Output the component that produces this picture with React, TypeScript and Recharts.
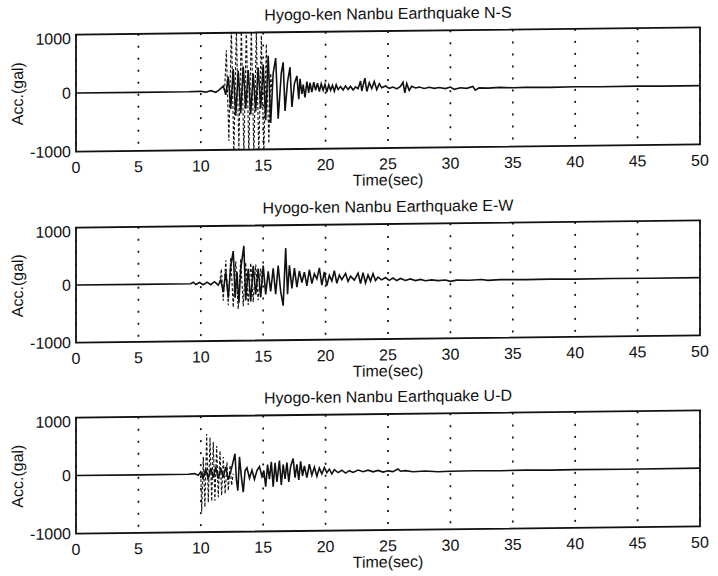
import React from 'react';
import { LineChart, Line, XAxis, YAxis, CartesianGrid, ReferenceArea } from 'recharts';

const FONT = '"Liberation Sans", Arial, Helvetica, sans-serif';
const INK = '#111';

const timeTicks = [0, 5, 10, 15, 20, 25, 30, 35, 40, 45, 50];
const accTicks = [-1000, 0, 1000];
const xLabel = 'Time(sec)';
const yLabel = 'Acc.(gal)';

const nsTitle = 'Hyogo-ken Nanbu Earthquake N-S';
const ewTitle = 'Hyogo-ken Nanbu Earthquake E-W';
const udTitle = 'Hyogo-ken Nanbu Earthquake U-D';

// N-S component: [time (sec), acceleration (gal)]
const nsTrace: [number, number][] = [
  [0, 0], [5, 0], [9, 0], [10, 5], [10.4, -10], [10.8, 15], [11.2, -15], [11.5, 30], [11.8, 90],
  [12.0, -60], [12.2, 250], [12.4, -300], [12.6, 380], [12.8, -420], [13.0, 350], [13.2, -380],
  [13.4, 420], [13.6, -300], [13.8, 360], [14.0, -400], [14.2, 300], [14.4, -350], [14.6, 400],
  [14.8, -300], [15.0, 450], [15.2, -500], [15.4, 600], [15.6, -550], [15.8, 300], [16.0, 560],
  [16.2, -480], [16.45, 300], [16.6, 485], [16.75, -345], [16.95, 150], [17.15, 400], [17.3, -280],
  [17.5, 120], [17.7, 250], [17.85, -150], [17.95, 200], [18.1, -60], [18.2, 100], [18.35, -120],
  [18.5, 150], [18.65, -40], [18.75, 130], [18.9, -30], [19.05, 140], [19.2, 0], [19.35, 120],
  [19.5, -20], [19.65, 110], [19.8, 0], [19.95, 100], [20.1, -30], [20.25, 90], [20.4, 0],
  [20.55, 80], [20.7, -20], [20.85, 90], [21.0, 10], [21.2, 60], [21.4, 0], [21.6, 70], [21.8, 10],
  [22.0, 60], [22.2, 0], [22.4, 50], [22.6, 20], [22.8, 150], [22.9, -20], [23.15, 200], [23.3, -30],
  [23.5, 120], [23.7, 20], [23.9, 140], [24.1, 0], [24.3, 100], [24.5, 30], [24.8, 60], [25.1, 20],
  [25.4, 40], [25.7, 10], [26.0, 50], [26.2, 120], [26.35, -60], [26.5, 100], [26.7, -20],
  [26.9, 50], [27.2, 20], [27.5, 35], [27.9, 10], [28.3, 30], [28.7, 10], [29.1, 25], [29.6, 5],
  [30.0, 30], [30.3, -10], [30.8, 15], [31.3, 5], [31.8, 35], [32.0, -30], [32.3, 10], [33, 5],
  [34, 15], [35, 5], [36, 10], [38, 5], [40, 10], [42, 5], [45, 10], [47, 5], [50, 5],
];
const nsBurst: [number, number][] = [
  [11.9, 0], [12.05, 700], [12.25, -850], [12.45, 1100], [12.65, -1100], [12.85, 1100],
  [13.05, -1000], [13.25, 1100], [13.45, -1100], [13.65, 1100], [13.85, -1100], [14.05, 1100],
  [14.25, -1100], [14.45, 1000], [14.65, -1100], [14.85, 950], [15.05, -1100], [15.25, 800],
  [15.45, -900], [15.6, 300], [15.7, 0],
];

// E-W component
const ewTrace: [number, number][] = [
  [0, 0], [5, 0], [9.2, 0], [9.4, 25], [9.6, -15], [9.9, 20], [10.2, -20], [10.5, 25], [10.8, -20],
  [11.1, 30], [11.4, -30], [11.6, 60], [11.8, -150], [12.0, 200], [12.2, -250], [12.4, 300],
  [12.6, 560], [12.75, -250], [12.9, 200], [13.05, -350], [13.2, 250], [13.45, 650], [13.6, -300],
  [13.8, 250], [14.0, -320], [14.2, 300], [14.4, -200], [14.6, 250], [14.8, -250], [15.0, 300],
  [15.2, -200], [15.4, 200], [15.6, -150], [15.8, 250], [16.0, -200], [16.2, 300], [16.4, -150],
  [16.6, -400], [16.8, 600], [16.95, -200], [17.1, 300], [17.3, -100], [17.5, 250], [17.7, -80],
  [17.9, 200], [18.1, 0], [18.3, 180], [18.5, -60], [18.7, 220], [18.9, -20], [19.1, 150],
  [19.3, 60], [19.5, 250], [19.7, -50], [19.9, 180], [20.1, -60], [20.3, 120], [20.5, 20],
  [20.7, 200], [20.9, -20], [21.1, 120], [21.3, 40], [21.6, 150], [21.8, 10], [22.0, 100],
  [22.3, 30], [22.6, 150], [22.8, -30], [23.0, 160], [23.2, -20], [23.4, 120], [23.6, 10],
  [23.8, 140], [24.0, 20], [24.2, 80], [24.5, 30], [24.8, 70], [25.1, 20], [25.4, 60], [25.7, 15],
  [26.0, 50], [26.4, 15], [26.8, 40], [27.2, 10], [27.6, 30], [28.0, 5], [28.5, 20], [29, 5],
  [29.6, 15], [30, -10], [30.5, 10], [31.5, 5], [32.5, 15], [33, 0], [34, 10], [36, 5], [38, 10],
  [40, 5], [43, 8], [46, 5], [50, 5],
];
const ewBurst: [number, number][] = [
  [11.5, 0], [11.65, 250], [11.8, -300], [12.0, 400], [12.2, -380], [12.4, 450], [12.6, -420],
  [12.8, 380], [13.0, -450], [13.2, 420], [13.4, -400], [13.6, 360], [13.8, -380], [14.0, 350],
  [14.2, -330], [14.4, 320], [14.6, -300], [14.8, 250], [14.95, 0],
];

// U-D component
const udTrace: [number, number][] = [
  [0, 0], [5, 0], [9.0, 0], [9.5, 10], [9.8, -20], [10.0, 40], [10.2, -60], [10.4, 80], [10.6, -80],
  [10.8, 100], [11.0, -60], [11.2, 120], [11.4, -80], [11.6, 100], [11.8, -60], [12.0, 120],
  [12.2, -100], [12.45, 80], [12.74, 345], [12.85, -100], [12.97, -290], [13.1, 290], [13.25, -50],
  [13.4, -320], [13.55, 50], [13.7, 100], [13.9, -80], [14.1, 60], [14.3, -100], [14.5, 50],
  [14.7, 120], [14.9, -50], [15.05, 50], [15.2, -230], [15.35, 150], [15.5, -100], [15.65, 200],
  [15.8, -230], [15.95, 180], [16.1, -150], [16.3, 220], [16.45, -200], [16.6, 150], [16.75, -100],
  [16.9, 180], [17.05, -150], [17.2, 120], [17.4, 250], [17.55, -80], [17.7, 150], [17.85, -120],
  [18.0, 200], [18.15, -50], [18.3, 120], [18.5, -80], [18.7, 150], [18.9, -40], [19.1, 100],
  [19.3, -60], [19.5, 80], [19.7, -20], [19.9, 90], [20.1, 0], [20.3, 60], [20.5, -20], [20.7, 50],
  [21.0, 0], [21.3, 40], [21.6, -10], [21.9, 30], [22.2, 0], [22.6, 40], [23.0, 10], [23.4, 35],
  [23.8, 5], [24.2, 30], [24.6, 0], [25.0, 20], [25.4, 5], [25.8, 50], [26.0, 10], [26.4, 20],
  [27, 0], [28, 10], [29, -5], [30, 0], [32, 5], [34, 0], [36, 5], [38, 0], [40, 5], [44, 0], [50, 5],
];
const udBurst: [number, number][] = [
  [10.0, 0], [10.07, -650], [10.2, 300], [10.33, -570], [10.47, 690], [10.6, -490], [10.74, 630],
  [10.87, -470], [11.0, 550], [11.13, -460], [11.27, 480], [11.4, -400], [11.54, 400], [11.67, -370],
  [11.8, 290], [11.95, -345], [12.1, 200], [12.2, -290], [12.35, 150], [12.47, -200], [12.6, 0],
];

const toRows = (pairs: [number, number][]) => pairs.map(([t, a]) => ({ t, a }));

const YTick = (props: any) => {
  const { x, y, payload } = props;
  const shift = payload.value === 1000 ? 4 : 0;
  return (
    <text x={x} y={y + shift} dy="0.355em" textAnchor="end" fontSize={16} fontFamily={FONT} fill={INK}>
      {payload.value}
    </text>
  );
};

const YTitle = (props: any) => {
  const vb = props.viewBox || { x: 0, y: 0, width: 0, height: 0 };
  const cx = vb.x + 17;
  const cy = vb.y + vb.height / 2;
  return (
    <text
      x={cx}
      y={cy}
      dy="0.355em"
      textAnchor="middle"
      transform={`rotate(-90 ${cx} ${cy})`}
      fontSize={16}
      fontFamily={FONT}
      fill={INK}
    >
      {yLabel}
    </text>
  );
};

type PanelProps = {
  title: string;
  trace: [number, number][];
  burst: [number, number][];
  top: number;
  plotTop: number;
  plotHeight: number;
};

function Panel({ title, trace, burst, top, plotTop, plotHeight }: PanelProps) {
  const axisH = 26;
  const bottomM = 22;
  const height = plotTop + plotHeight + axisH + bottomM;
  return (
    <div style={{ position: 'absolute', left: 0, top }}>
      <LineChart
        width={718}
        height={height}
        margin={{ top: plotTop, right: 18, bottom: bottomM, left: 0 }}
      >
        <CartesianGrid
          horizontal={false}
          stroke={INK}
          strokeWidth={1.7}
          strokeDasharray="2 10"
        />
        <XAxis
          dataKey="t"
          type="number"
          domain={[0, 50]}
          ticks={timeTicks}
          allowDataOverflow
          axisLine={false}
          tickLine={false}
          tickSize={0}
          tickMargin={10}
          height={axisH}
          tick={{ fontSize: 16, fill: INK, fontFamily: FONT }}
          label={{ value: xLabel, position: 'bottom', offset: 0, fontSize: 16, fill: INK, fontFamily: FONT }}
        />
        <YAxis
          type="number"
          domain={[-1000, 1000]}
          ticks={accTicks}
          allowDataOverflow
          width={76}
          axisLine={false}
          tickLine={false}
          tickSize={0}
          tickMargin={5}
          tick={<YTick />}
          label={<YTitle />}
        />
        <ReferenceArea
          x1={0}
          x2={50}
          y1={-1000}
          y2={1000}
          fill="none"
          fillOpacity={0}
          stroke={INK}
          strokeWidth={1.8}
          label={{ value: title, position: 'top', offset: 12, fontSize: 16, fill: INK, fontFamily: FONT }}
        />
        <Line
          data={toRows(burst)}
          dataKey="a"
          stroke={INK}
          strokeWidth={1.1}
          strokeDasharray="3 2"
          dot={false}
          isAnimationActive={false}
        />
        <Line
          data={toRows(trace)}
          dataKey="a"
          stroke={INK}
          strokeWidth={1.6}
          dot={false}
          isAnimationActive={false}
        />
      </LineChart>
    </div>
  );
}

export default function App() {
  return (
    <div
      style={{
        position: 'absolute',
        left: 0,
        top: 0,
        width: 718,
        height: 576,
        background: '#fff',
        overflow: 'hidden',
        transform: 'skewY(-0.65deg)',
        transformOrigin: '388px 288px',
      }}
    >
      <Panel title={nsTitle} trace={nsTrace} burst={nsBurst} top={0} plotTop={31} plotHeight={117} />
      <Panel title={ewTitle} trace={ewTrace} burst={ewBurst} top={193} plotTop={31} plotHeight={115} />
      <Panel title={udTitle} trace={udTrace} burst={udBurst} top={383} plotTop={31} plotHeight={116} />
    </div>
  );
}
